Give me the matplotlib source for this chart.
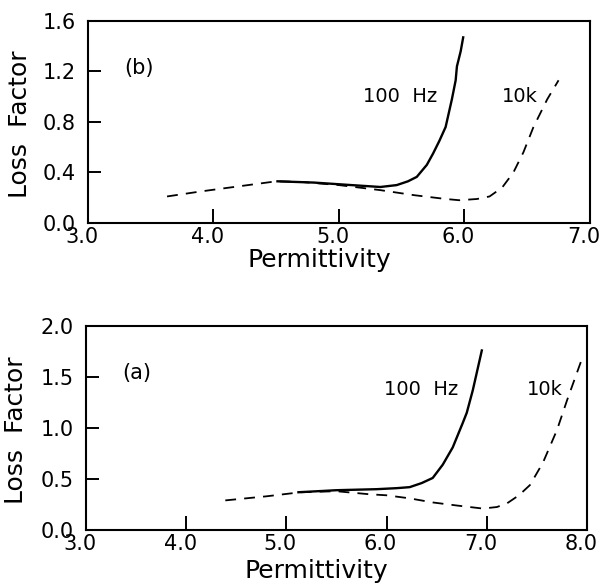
import matplotlib
matplotlib.use("Agg")
import matplotlib.pyplot as plt
from matplotlib.transforms import ScaledTranslation

plt.rcParams["font.family"] = ["DejaVu Sans"]

# panel (b)
perm_b_10k = [3.63, 3.9, 4.2, 4.5, 4.7, 5.0, 5.33, 5.6, 5.85, 5.96, 6.1, 6.2,
              6.3, 6.39, 6.47, 6.55, 6.66, 6.75]
loss_b_10k = [0.21, 0.25, 0.29, 0.33, 0.325, 0.30, 0.26, 0.22, 0.19, 0.18, 0.19,
              0.21, 0.28, 0.40, 0.56, 0.76, 0.98, 1.13]
perm_b_100 = [4.51, 4.8, 5.1, 5.33, 5.46, 5.55, 5.62, 5.7, 5.75, 5.8, 5.85, 5.9,
              5.93, 5.94, 5.97, 5.99]
loss_b_100 = [0.33, 0.32, 0.30, 0.285, 0.30, 0.33, 0.365, 0.46, 0.55, 0.65, 0.76,
              0.98, 1.13, 1.24, 1.36, 1.47]

# panel (a)
perm_a_10k = [4.39, 4.8, 5.14, 5.5, 5.83, 6.0, 6.23, 6.46, 6.7, 6.96, 7.1, 7.2,
              7.32, 7.43, 7.56, 7.7, 7.8, 7.95]
loss_a_10k = [0.29, 0.33, 0.37, 0.38, 0.35, 0.34, 0.31, 0.27, 0.24, 0.21, 0.225,
              0.26, 0.34, 0.44, 0.66, 0.98, 1.27, 1.68]
perm_a_100 = [5.12, 5.5, 5.9, 6.1, 6.23, 6.35, 6.46, 6.56, 6.66, 6.76, 6.8, 6.86,
              6.95]
loss_a_100 = [0.37, 0.39, 0.40, 0.41, 0.42, 0.46, 0.51, 0.64, 0.81, 1.05, 1.15,
              1.37, 1.76]

xticks_b = [3.0, 4.0, 5.0, 6.0, 7.0]
yticks_b = [0.0, 0.4, 0.8, 1.2, 1.6]
xticks_a = [3.0, 4.0, 5.0, 6.0, 7.0, 8.0]
yticks_a = [0.0, 0.5, 1.0, 1.5, 2.0]

fig = plt.figure(figsize=(6.04, 5.84), dpi=100)
ax_b = fig.add_axes([0.1457, 0.6182, 0.831, 0.3459])
ax_a = fig.add_axes([0.1424, 0.0925, 0.8295, 0.3493])

shift_left = ScaledTranslation(-6 / 100, 0, fig.dpi_scale_trans)


def style(ax, xt, yt, xlab_y, ylab_x):
    ax.set_xlim(xt[0], xt[-1])
    ax.set_ylim(yt[0], yt[-1])
    ax.set_xticks(xt)
    ax.set_yticks(yt)
    ax.set_xticklabels([f"{v:.1f}" for v in xt])
    ax.set_yticklabels([f"{v:.1f}" for v in yt])
    ax.tick_params(axis="x", direction="in", length=10, width=1.4, pad=3,
                   labelsize=15)
    ax.tick_params(axis="y", direction="in", length=9, width=1.4, pad=9,
                   labelsize=15)
    for lab in ax.get_xticklabels():
        lab.set_transform(lab.get_transform() + shift_left)
    for s in ax.spines.values():
        s.set_linewidth(1.5)
    ax.set_xlabel("Permittivity", fontsize=18)
    ax.set_ylabel("Loss  Factor", fontsize=18)
    ax.xaxis.set_label_coords(0.46, xlab_y)
    ax.yaxis.set_label_coords(ylab_x, 0.49)


ax_b.plot(perm_b_10k, loss_b_10k, color="black", lw=1.3, dashes=(6, 4.5))
ax_b.plot(perm_b_100, loss_b_100, color="black", lw=1.7)
ax_b.text(3.41, 1.23, "(b)", fontsize=15, ha="center", va="center")
ax_b.text(5.49, 1.0, "100  Hz", fontsize=14, ha="center", va="center")
ax_b.text(6.44, 1.0, "10k", fontsize=14, ha="center", va="center")
style(ax_b, xticks_b, yticks_b, -0.125, -0.112)

ax_a.plot(perm_a_10k, loss_a_10k, color="black", lw=1.3, dashes=(6, 4.5))
ax_a.plot(perm_a_100, loss_a_100, color="black", lw=1.7)
ax_a.text(3.51, 1.54, "(a)", fontsize=15, ha="center", va="center")
ax_a.text(6.34, 1.38, "100  Hz", fontsize=14, ha="center", va="center")
ax_a.text(7.58, 1.38, "10k", fontsize=14, ha="center", va="center")
style(ax_a, xticks_a, yticks_a, -0.14, -0.116)

fig.savefig("out.png", dpi=100)
